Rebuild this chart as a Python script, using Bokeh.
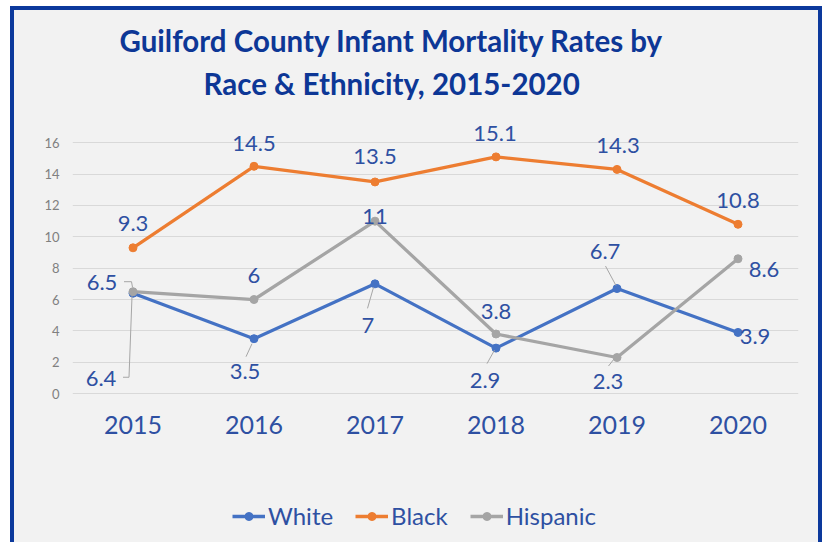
from bokeh.plotting import figure
from bokeh.layouts import column
from bokeh.models import Title, Legend, LegendItem, FixedTicker, Range1d
from bokeh.core.properties import value
from bokeh.embed import file_html
from bokeh.resources import INLINE

# ---------------- data ----------------
years = ["2015", "2016", "2017", "2018", "2019", "2020"]
white = [6.4, 3.5, 7, 2.9, 6.7, 3.9]
black = [9.3, 14.5, 13.5, 15.1, 14.3, 10.8]
hispanic = [6.5, 6, 11, 3.8, 2.3, 8.6]
y_ticks = [0, 2, 4, 6, 8, 10, 12, 14, 16]
title_line1 = "Guilford County Infant  Mortality Rates by"
title_line2 = "Race & Ethnicity, 2015-2020"

# ---------------- label placement (pixel offsets from each point) ----------------
white_dx = [-32, -9, -7, -11, -12, 17]
white_dy = [85, 33, 42, 32, -37, 4]
black_dx = [0, 0, 0, -1, 1, 0]
black_dy = [-24, -23, -25, -23, -24, -24]
hisp_dx = [-31, 0, 0, 0, -9, 26]
hisp_dy = [-9, -24, -5, -23, 24, 11]
white_leaders = [[(-10, 84), (-4, 84), (-1, 3)], [(-8, 18), (-2, 5)],
                 [(-7.5, 24.5), (-1.5, 3.5)], [(-9, 15.5), (-1.5, 2)],
                 [(-11.5, -22.5), (-1, -3)], None]
hisp_leaders = [[(-9, -10), (-1.5, -10), (-0.5, -4.5)], None, None, None,
                [(-8.5, 8.5), (-3, 1.5)], None]

# ---------------- style ----------------
BG = "#F2F2F2"
BORDER = "#0C399C"
TITLE_C = "#0D3796"
LABEL_C = "#2E50A2"
C_WHITE, C_BLACK, C_HISP = "#4472C4", "#ED7D31", "#A5A5A5"
FONT = "Lato"

W, H = 804, 532
ML, MR, MT = 58, 20, 97
FH = 290
MB = 55
HA = MT + FH + MB          # main chart part
HB = H - HA                # legend strip
FW = W - ML - MR
X0, X1 = -0.5, len(years) - 0.5
Y0, Y1 = -0.25, 18.25
PX_X = FW / (X1 - X0)
PX_Y = FH / (Y1 - Y0)

xs = list(range(len(years)))

p = figure(width=W, height=HA, x_range=Range1d(X0, X1), y_range=Range1d(Y0, Y1),
           output_backend="svg", toolbar_location=None, title=None,
           min_border_left=ML, min_border_right=MR, min_border_top=MT,
           min_border_bottom=MB,
           background_fill_color=BG, border_fill_color=BG,
           outline_line_color=None)

# axes
p.xaxis.ticker = FixedTicker(ticks=xs)
p.xaxis.major_label_overrides = {i: y for i, y in enumerate(years)}
p.xaxis.axis_line_color = None
p.xaxis.major_tick_line_color = None
p.xaxis.minor_tick_line_color = None
p.xaxis.major_label_text_font = FONT
p.xaxis.major_label_text_font_size = "25px"
p.xaxis.major_label_text_color = LABEL_C
p.xaxis.major_label_standoff = 12

p.yaxis.ticker = FixedTicker(ticks=y_ticks)
p.yaxis.axis_line_color = None
p.yaxis.major_tick_line_color = None
p.yaxis.minor_tick_line_color = None
p.yaxis.major_tick_out = 0
p.yaxis.major_label_text_font = FONT
p.yaxis.major_label_text_font_size = "13px"
p.yaxis.major_label_text_color = "#808080"
p.yaxis.major_label_standoff = 13

p.xgrid.grid_line_color = None
p.ygrid.grid_line_color = "#D9D9D9"
p.ygrid.grid_line_width = 1

# titles (first added sits closest to the frame)
p.add_layout(Title(text=title_line2, align="left", offset=131,
                   text_font=FONT, text_font_size="29.5px", text_font_style="bold",
                   text_color=TITLE_C, standoff=13), "above")
p.add_layout(Title(text=title_line1, align="left", offset=47,
                   text_font=FONT, text_font_size="29.5px", text_font_style="bold",
                   text_color=TITLE_C, standoff=0), "above")

# series
series = [("White", white, C_WHITE), ("Black", black, C_BLACK), ("Hispanic", hispanic, C_HISP)]
for name, vals, col in series:
    p.line(xs, vals, line_color=col, line_width=3.25)
    p.scatter(xs, vals, size=8, fill_color=col, line_color=col)

# leader lines
def leaders(vals, specs):
    lx, ly = [], []
    for i, (v, spec) in enumerate(zip(vals, specs)):
        if spec is None:
            continue
        lx.append([xs[i] + dx / PX_X for dx, dy in spec])
        ly.append([v - dy / PX_Y for dx, dy in spec])
    return lx, ly

for vals, specs in [(white, white_leaders), (hispanic, hisp_leaders)]:
    lx, ly = leaders(vals, specs)
    p.multi_line(lx, ly, line_color="#A6A6A6", line_width=1)

# data labels
def fmt(v):
    return f"{v:g}"

for vals, dx, dy in [(white, white_dx, white_dy), (black, black_dx, black_dy),
                     (hispanic, hisp_dx, hisp_dy)]:
    p.text(xs, vals, text=[fmt(v) for v in vals], x_offset=dx, y_offset=dy,
           text_align="center", text_baseline="middle",
           text_font=value(FONT), text_font_size="22px", text_color=LABEL_C)

# ---------------- legend strip ----------------
# same series drawn again, but outside this strip's visible range: only the keys show
q = figure(width=W, height=HB, x_range=Range1d(-20, -19), y_range=Range1d(-20, -19),
           output_backend="svg", toolbar_location=None, title=None,
           x_axis_location=None, y_axis_location=None, min_border=0,
           background_fill_color=None, border_fill_color=BG, outline_line_color=None)
q.grid.visible = False
items = []
for name, vals, col in series:
    lr = q.line(xs, vals, line_color=col, line_width=3.5)
    sr = q.scatter(xs, vals, size=8, fill_color=col, line_color=col)
    items.append(LegendItem(label=name, renderers=[lr, sr]))

legend = Legend(items=items, orientation="horizontal", location=(160, 12),
                glyph_width=33, glyph_height=20, label_standoff=3, spacing=22,
                padding=0, margin=0, border_line_color=None,
                background_fill_alpha=0, label_text_font=FONT,
                label_text_font_size="24px", label_text_color=LABEL_C)
q.add_layout(legend, "center")

layout = column(p, q, spacing=0,
                styles={"box-sizing": "content-box", "background-color": BG,
                        "border-style": "solid", "border-color": BORDER,
                        "border-width": "4px 4px 0px 4px",
                        "margin-left": "10px", "margin-top": "6px"})

open("out.html", "w").write(file_html(layout, INLINE))
